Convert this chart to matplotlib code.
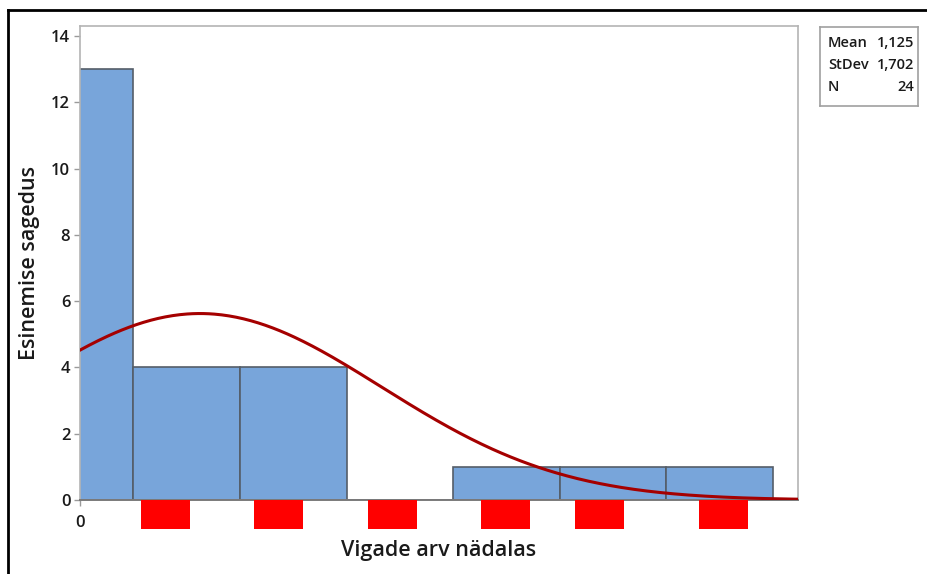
import numpy as np
import matplotlib
matplotlib.use("Agg")
import matplotlib.pyplot as plt
from matplotlib.patches import Rectangle
import matplotlib.transforms as mtransforms

plt.rcParams['font.family'] = ['Open Sans', 'DejaVu Sans']

# Histogram of weekly error counts
bin_centers = [0, 1, 2, 3, 4, 5, 6]
counts = [13, 4, 4, 0, 1, 1, 1]
n_obs = 24
mean_val = 1.125
std_val = 1.702
stat_lines = [("Mean", "1,125"), ("StDev", "1,702"), ("N", "24")]
# centres of the masked tick-label blocks under the axis
mask_centers = [0.8, 1.86, 2.93, 3.99, 4.87, 6.04]

bar_color = "#78A5DA"
edge_color = "#555E68"
curve_color = "#A50000"
text_color = "#1A1A1A"

fig = plt.figure(figsize=(9.28, 5.74), dpi=100)
ax = fig.add_axes([80/928, 74/574, 718/928, 474/574])

ax.bar(bin_centers, counts, width=1.0, color=bar_color, edgecolor=edge_color,
       linewidth=1.2, align='center', zorder=2)

# fitted normal curve scaled to counts (bin width 1)
xs = np.linspace(0, 6.8, 400)
ys = n_obs * 1.0 / (std_val * np.sqrt(2 * np.pi)) * np.exp(-0.5 * ((xs - mean_val) / std_val) ** 2)
ax.plot(xs, ys, color=curve_color, linewidth=2.2, zorder=3)

ax.set_xlim(0, 6.735)
ax.set_ylim(0, 14.3)
ax.set_yticks(range(0, 15, 2))
ax.set_xticks([0])
ax.set_xticklabels(["0"])

for side in ['top', 'right', 'left']:
    ax.spines[side].set_color("#B4B4B4")
    ax.spines[side].set_linewidth(1.2)
ax.spines['bottom'].set_color("#7A7A7A")
ax.spines['bottom'].set_linewidth(1.4)

ax.tick_params(axis='y', length=4, width=1, color="#9A9A9A", labelsize=12, pad=3,
               labelcolor=text_color)
ax.tick_params(axis='x', length=4, width=1, color="#9A9A9A", labelsize=12, pad=7,
               labelcolor=text_color)
for lbl in ax.get_xticklabels() + ax.get_yticklabels():
    lbl.set_fontweight('semibold')

ax.set_xlabel("Vigade arv nädalas", fontsize=15.5, labelpad=6, fontweight='semibold',
              color=text_color)
ax.set_ylabel("Esinemise sagedus", fontsize=15.5, labelpad=8, fontweight='semibold',
              color=text_color)

# red blocks under the x axis
trans = mtransforms.blended_transform_factory(ax.transData, ax.transAxes)
for c in mask_centers:
    ax.add_patch(Rectangle((c - 0.23, -29/474), 0.46, 29/474, transform=trans,
                           facecolor="#FF0000", edgecolor="none", clip_on=False, zorder=5))

# summary statistics box
box_ax = fig.add_axes([820/928, (574-106)/574, 98/928, 79/574])
box_ax.set_xticks([]); box_ax.set_yticks([])
for s in box_ax.spines.values():
    s.set_color("#A0A0A0"); s.set_linewidth(1.2)
for i, (k, v) in enumerate(stat_lines):
    yy = 0.8 - i * 0.28
    box_ax.text(0.08, yy, k, fontsize=10.5, va='center', ha='left', fontweight='semibold',
                color=text_color, transform=box_ax.transAxes)
    box_ax.text(0.96, yy, v, fontsize=10.5, va='center', ha='right', fontweight='semibold',
                color=text_color, transform=box_ax.transAxes)

# outer frame lines
fig.add_artist(plt.Line2D([8/928, 8/928], [0, 1 - 10/574], color='black', linewidth=2,
                          transform=fig.transFigure))
fig.add_artist(plt.Line2D([8/928, 1], [1 - 10/574, 1 - 10/574], color='black', linewidth=2,
                          transform=fig.transFigure))

fig.savefig("out.png", dpi=100)
